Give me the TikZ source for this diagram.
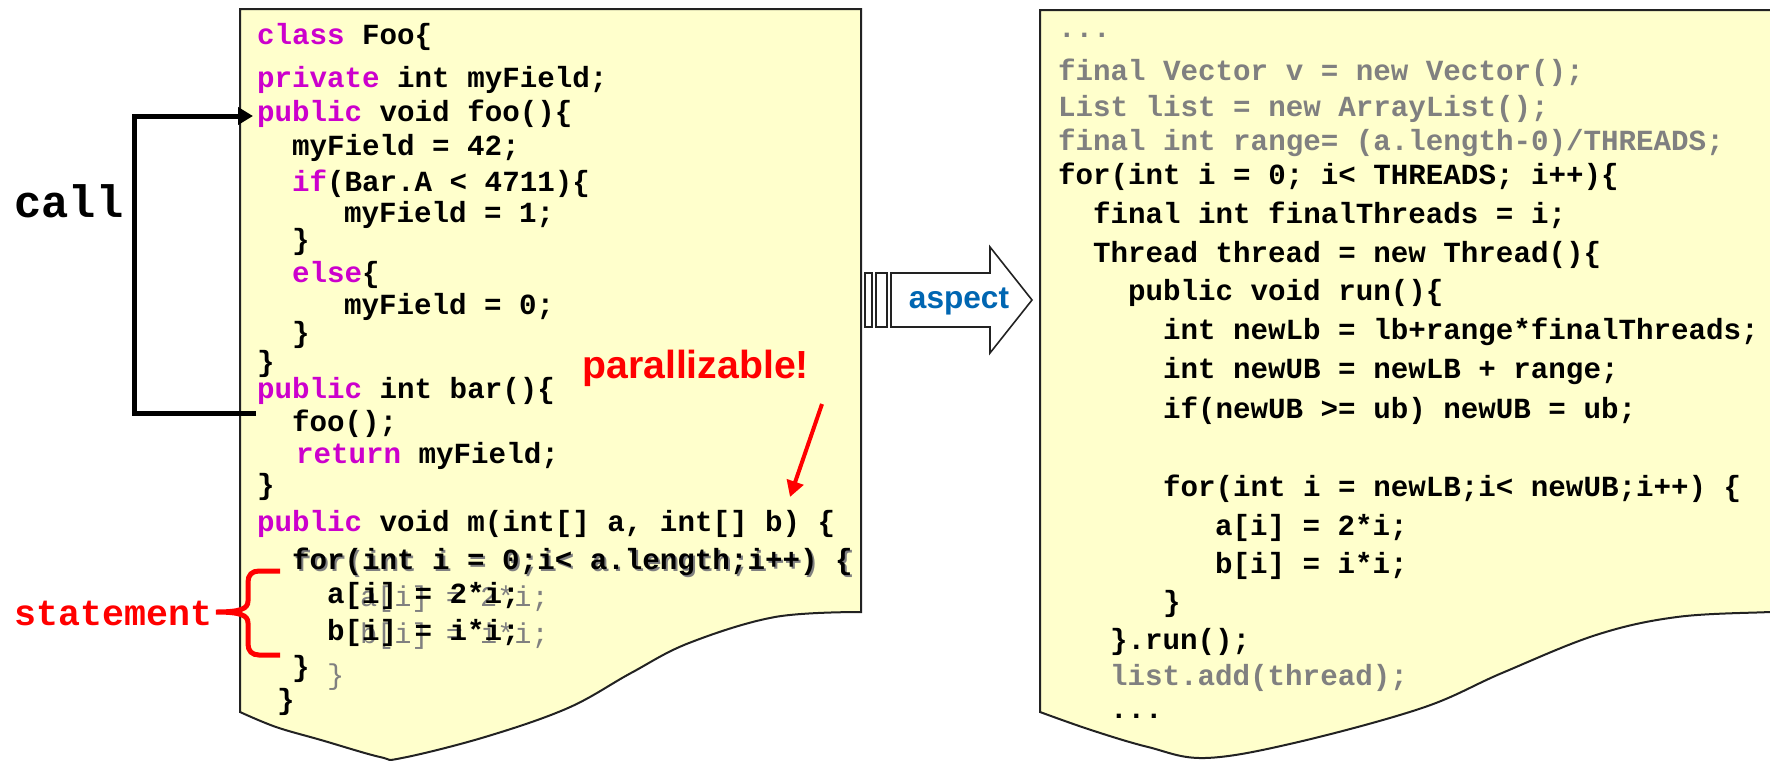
\documentclass[tikz,border=0pt]{standalone}
\usepackage{fontspec}
\setmainfont{Liberation Sans}
\newfontfamily\cour{Liberation Mono}
\usetikzlibrary{arrows.meta}
\definecolor{paper}{HTML}{FFFFCC}
\definecolor{kwc}{HTML}{CC00CC}
\definecolor{cgray}{HTML}{808080}
\definecolor{aspblue}{HTML}{0066B2}
\definecolor{edge}{HTML}{222222}
\newcommand{\kw}[1]{\textcolor{kwc}{#1}}
\begin{document}
\begin{tikzpicture}[x=0.5pt,y=-0.5pt,
  code/.style={anchor=base west, inner sep=0pt, outer sep=0pt, text=black,
    font=\cour\bfseries\fontsize{14.6}{17}\selectfont},
  gcode/.style={code, text=cgray},
  gthin/.style={anchor=base west, inner sep=0pt, outer sep=0pt, text=cgray,
    font=\cour\fontsize{14.3}{17}\selectfont},
  panel/.style={fill=paper, draw=edge, line width=1pt},
  callline/.style={line width=2.5pt, draw=black, line join=miter},
  redarrow/.style={draw=red, line width=2pt, -{Triangle[length=8pt,width=8.5pt]}},
  bracestyle/.style={draw=red, line width=2.5pt},
  blockarrow/.style={fill=white, draw=edge, line width=0.8pt, line join=miter},
  bigmono/.style={anchor=base west, inner sep=0pt, font=\cour\bfseries\fontsize{22.7}{26}\selectfont},
  redmono/.style={anchor=base west, inner sep=0pt, text=red, font=\cour\bfseries\fontsize{18.3}{22}\selectfont},
  redsans/.style={anchor=base west, inner sep=0pt, text=red, font=\bfseries\fontsize{19.6}{23}\selectfont},
  bluesans/.style={anchor=base, inner sep=0pt, text=aspblue, font=\bfseries\fontsize{15.8}{19}\selectfont}
]
\useasboundingbox (0,0) rectangle (1770,760);
\clip (0,0) rectangle (1770,760);

% ---------- panels ----------
\path[panel] (240,9) -- (861,9) -- (861,612) -- plot[smooth, tension=0.6] coordinates
  {(861,612) (775,617) (689,643) (631,673) (568,708) (485,737) (402,758) (380,757) (321,740) (276,727) (240,712)} -- cycle;
\path[panel] (1040,10) -- (1800,10) -- (1800,611) -- plot[smooth, tension=0.6] coordinates
  {(1800,611) (1770,612) (1677,617) (1596,635) (1502,673) (1422,708) (1294,743) (1205,758) (1148,747) (1091,730) (1040,712)} -- cycle;

% ---------- left code ----------
\node[code] (l1) at (257,44) {\kw{class} Foo\{};
\node[code] (l2) at (257,87) {\kw{private} int myField;};
\node[code] (l3) at (257,121) {\kw{public} void foo()\{};
\node[code] (l4) at (292,155) {myField = 42;};
\node[code] (l5) at (292,191) {\kw{if}(Bar.A < 4711)\{};
\node[code] (l6) at (344,222) {myField = 1;};
\node[code] (l7) at (292,249) {\}};
\node[code] (l8) at (292,282) {\kw{else}\{};
\node[code] (l9) at (344,314) {myField = 0;};
\node[code] (l10) at (292,342) {\}};
\node[code] (l11) at (257,371) {\}};
\node[code] (l12) at (257,398) {\kw{public} int bar()\{};
\node[code] (l13) at (292,431) {foo();};
\node[code] (l14) at (296,463) {\kw{return} myField;};
\node[code] (l15) at (257,494) {\}};
\node[code] (l16) at (257,531) {\kw{public} void m(int[] a, int[] b) \{};
\node[gcode] (l17g) at (294,571) {for(int i = 0;i< a.length;i++) \{};
\node[code] (l17) at (292,569) {for(int i = 0;i< a.length;i++) \{};
\node[gthin] (l18g) at (360,606) {a[i] = 2*i;};
\node[code] (l18) at (327,603) {a[i] = 2*i;};
\node[gthin] (l19g) at (360,643) {b[i] = i*i;};
\node[code] (l19) at (327,640) {b[i] = i*i;};
\node[code] (l20) at (292,676) {\}};
\node[gthin] (l20g) at (327,684) {\}};
\node[code] (l21) at (277,709) {\}};

% ---------- right code ----------
\node[gcode] (r1) at (1058,37) {...};
\node[gcode] (r2) at (1058,80) {final Vector v = new Vector();};
\node[gcode] (r3) at (1058,116) {List list = new ArrayList();};
\node[gcode] (r4) at (1058,150) {final int range= (a.length-0)/THREADS;};
\node[code] (r5) at (1058,184) {for(int i = 0; i< THREADS; i++)\{};
\node[code] (r6) at (1093,223) {final int finalThreads = i;};
\node[code] (r7) at (1093,262) {Thread thread = new Thread()\{};
\node[code] (r8) at (1128,300) {public void run()\{};
\node[code] (r9) at (1163,339) {int newLb = lb+range*finalThreads;};
\node[code] (r10) at (1163,378) {int newUB = newLB + range;};
\node[code] (r11) at (1163,418) {if(newUB >= ub) newUB = ub;};
\node[code] (r12) at (1163,496) {for(int i = newLB;i< newUB;i++) \{};
\node[code] (r13) at (1215,535) {a[i] = 2*i;};
\node[code] (r14) at (1215,573) {b[i] = i*i;};
\node[code] (r15) at (1163,611) {\}};
\node[code] (r16) at (1110,649) {\}.run();};
\node[gcode] (r17) at (1110,685) {list.add(thread);};
\node[code] (r18) at (1110,718) {...};

% ---------- labels ----------
\node[bigmono] (call) at (14,217) {call};
\node[redmono] (stmt) at (14,625) {statement};
\node[redsans] (par) at (582,378) {parallizable!};

% ---------- call connector ----------
\coordinate (callA) at (256,413);
\coordinate (callB) at (253,116);
\coordinate (callX) at (134,0);
\draw[callline, -{Triangle[length=7.5pt,width=8.5pt]}]
  (callA) -- (callX |- callA) -- (callX |- callB) -- (callB);

% ---------- parallizable arrow ----------
\coordinate (pA) at (822,404);
\coordinate (pB) at (790,497);
\draw[redarrow] (pA) -- (pB);

% ---------- statement brace ----------
\coordinate (brT) at (280,571);
\coordinate (brB) at (280,655);
\coordinate (brTip) at (216,612);
\draw[bracestyle] (brT) -- (259,571) .. controls (252,571) and (248,575) .. (248,582)
  -- (248,601) .. controls (248,609) and (240,612) .. (brTip)
  .. controls (240,612) and (248,615) .. (248,623)
  -- (248,644) .. controls (248,651) and (252,655) .. (259,655) -- (brB);

% ---------- aspect block arrow ----------
\path[blockarrow] (865,273) rectangle (872,327);
\path[blockarrow] (876,273) rectangle (887,327);
\path[blockarrow] (891,273) -- (990,273) -- (990,247) -- (1032,300) -- (990,353) -- (990,327) -- (891,327) -- cycle;
\node[bluesans] (asp) at (959,308) {aspect};
\end{tikzpicture}
\end{document}
